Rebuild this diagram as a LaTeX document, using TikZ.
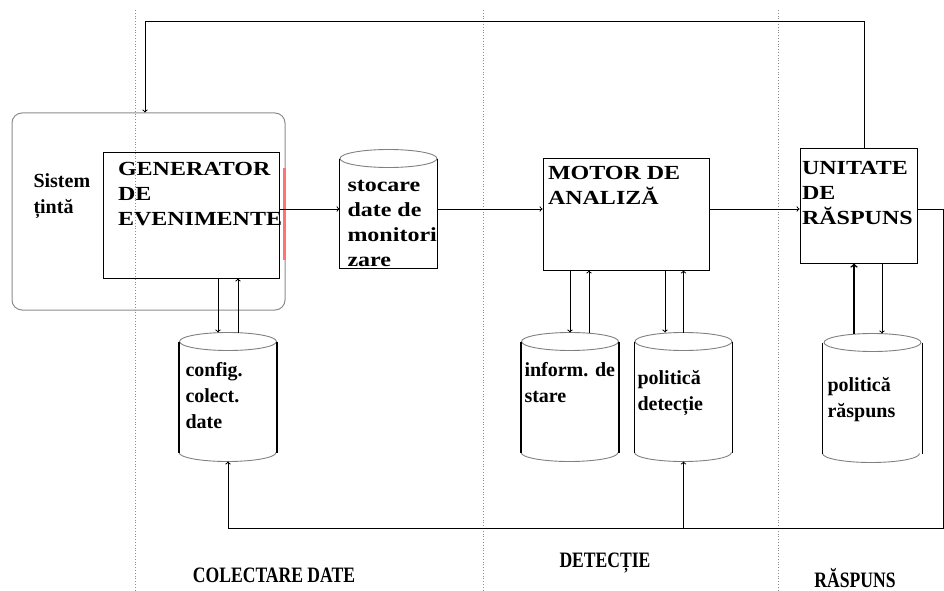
\documentclass[tikz,border=0pt]{standalone}
\usepackage{fontspec}
\setmainfont{Liberation Serif}
\newfontfamily\widefont[FakeStretch=1.2]{Liberation Serif}
\newfontfamily\condfont[FakeStretch=0.8]{Liberation Serif}
\usetikzlibrary {arrows}
\usetikzlibrary {shapes.geometric}

\begin{document}
\begin{tikzpicture} [
        x=1pt, y=-1pt,
        line width=1pt,
        divider/.style={draw=black!45, dotted, line width=0.8pt},
        sysbox/.style={draw=black!45, rectangle, rounded corners=10pt, minimum width=273pt, minimum height=197pt},
        box/.style={draw, rectangle, inner sep=0pt},
        db/.style={rectangle, inner sep=0pt, minimum width=97pt, minimum height=128pt},
        dbside/.style={draw=black, line width=1.2pt},
        dbend/.style={draw=black!50, line width=0.9pt},
        boxtxt/.style={font=\widefont\bfseries\fontsize{20}{25}\selectfont, anchor=north west, inner sep=0pt, align=left},
        dbtxt/.style={font=\bfseries\fontsize{20}{26}\selectfont, anchor=north west, inner sep=0pt, align=left},
        zone/.style={font=\condfont\bfseries\fontsize{22}{26}\selectfont, inner sep=0pt},
        align=center ]
    \useasboundingbox (0,0) rectangle (944,591);
    \draw[divider] (135,10) -- (135,591);
    \draw[divider] (483,10) -- (483,591);
    \draw[divider] (778,10) -- (778,591);
    \node[sysbox] (sys) at (148.5,211.5) {};
    \node[dbtxt] (systxt) at (33,173.5) {Sistem\\țintă};
    \node[box, minimum width=176pt, minimum height=126pt] (gen) at (191,215) {};
    \node[boxtxt] (gentxt) at ([shift={(15,10.5)}]gen.north west) {GENERATOR\\DE\\EVENIMENTE};
    \draw[red!55, line width=2.5pt] ([shift={(5,-47)}]gen.east) -- ([shift={(5,45)}]gen.east);
    \node[db, minimum height=118pt] (store) at (388.5,209) {};
    \draw[dbend] ([yshift=-9pt]store.north) ellipse [x radius=48.5pt, y radius=9pt];
    \draw[dbside] ([yshift=-9pt]store.north west) -- (store.south west) -- (store.south east) -- ([yshift=-9pt]store.north east);
    \node[boxtxt] (storetxt) at (347,179.5) {stocare\\date de\\monitori\\zare};
    \node[box, minimum width=166pt, minimum height=112pt] (motor) at (626,214) {};
    \node[boxtxt] (motortxt) at ([shift={(5,8.5)}]motor.north west) {MOTOR DE\\ANALIZĂ};
    \node[box, minimum width=117pt, minimum height=115pt] (resp) at (858.5,205.5) {};
    \node[boxtxt] (resptxt) at ([shift={(2,13.5)}]resp.north west) {UNITATE\\DE\\RĂSPUNS};
    \node[db] (cfg) at (228,397) {};
    \node[db] (state) at (570,397) {};
    \node[db] (dpol) at (683.5,397) {};
    \node[db, minimum width=99pt] (rpol) at (872.5,398) {};
    \foreach \n in {cfg,state,dpol,rpol} {
        \draw[dbend] ([yshift=-9pt]\n.north) ellipse [x radius=48.5pt, y radius=9pt];
        \draw[dbend] ([yshift=9pt]\n.south west) arc [start angle=180, end angle=360, x radius=48.5pt, y radius=9pt];
        \draw[dbside] ([yshift=-9pt]\n.north west) -- ([yshift=9pt]\n.south west);
        \draw[dbside] ([yshift=-9pt]\n.north east) -- ([yshift=9pt]\n.south east);
    }
    \node[dbtxt] (cfgtxt) at (185,361.5) {config.\\colect.\\date};
    \node[dbtxt] (statetxt) at (524,361.5) {inform. de\\stare};
    \node[dbtxt] (dpoltxt) at (637,369.5) {politică\\detecție};
    \node[dbtxt] (rpoltxt) at (827,376.5) {politică\\răspuns};
    \draw (gen.east |- store) edge[->] (store.west);
    \draw (store.east) edge[->] (motor.west |- store.east);
    \draw (motor.east |- store) edge[->] (resp.west |- store);
    \draw[->] ([xshift=-10]cfg.north |- gen.south) -- ([xshift=-10]cfg.north);
    \draw[<-] ([xshift=10]cfg.north |- gen.south) -- ([xshift=10]cfg.north);
    \draw[->] (state.north |- motor.south) -- (state.north);
    \draw[<-] ([xshift=19]state.north |- motor.south) -- ([xshift=19]state.north);
    \draw[->] ([xshift=-18.5]dpol.north |- motor.south) -- ([xshift=-18.5]dpol.north);
    \draw[<-] (dpol.north |- motor.south) -- (dpol.north);
    \draw[<-, line width=1.6pt] ([xshift=-18.5]rpol.north |- resp.south) -- ([xshift=-18.5]rpol.north);
    \draw[->] ([xshift=9.5]rpol.north |- resp.south) -- ([xshift=9.5]rpol.north);
    \coordinate (top) at (145,22);
    \draw[->] ([xshift=5.5]resp.north) |- (top) -- (top |- sys.north);
    \coordinate (loop) at (943,528);
    \draw[->] (resp.east |- store) -| (loop) -| (cfg.south);
    \draw[->] (dpol.south |- loop) -- (dpol.south);
    \node[zone] (colect) at (274,575) {COLECTARE DATE};
    \node[zone] (detect) at (605,563) {DETECȚIE};
    \node[zone] (raspuns) at (855,578) {RĂSPUNS};
\end{tikzpicture}
\end{document}
